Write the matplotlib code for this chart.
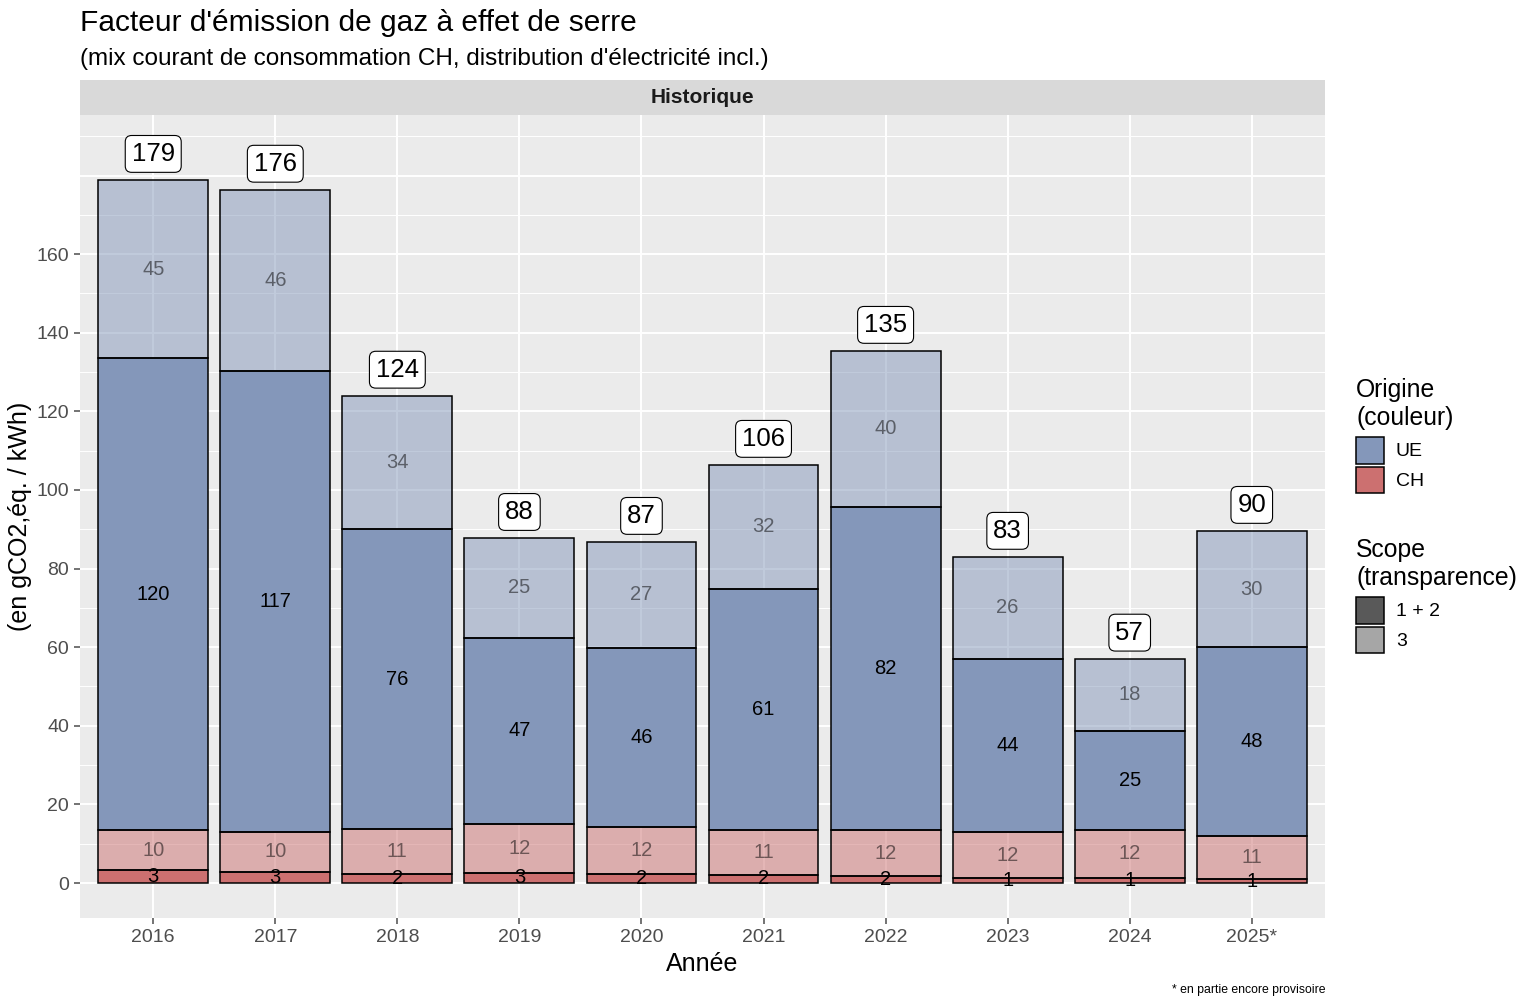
import numpy as np
import matplotlib
matplotlib.use("Agg")
from matplotlib import pyplot as plt
from matplotlib.patches import Patch

plt.rcParams['font.family'] = ['Liberation Sans', 'DejaVu Sans']

years = ['2016', '2017', '2018', '2019', '2020', '2021', '2022', '2023', '2024', '2025*']
ch_s12 = [3.2, 2.8, 2.4, 2.6, 2.3, 2.1, 1.7, 1.3, 1.2, 0.9]
ch_s3 = [10.3, 10.2, 11.3, 12.4, 11.9, 11.4, 11.8, 11.6, 12.4, 11.1]
ue_s12 = [120.0, 117.2, 76.4, 47.4, 45.6, 61.3, 82.2, 44.2, 25.2, 48.0]
ue_s3 = [45.4, 46.2, 33.9, 25.4, 27.0, 31.6, 39.7, 25.9, 18.3, 29.6]

col_ue = '#8497BA'
col_ch = '#CC7070'
bg = '#EBEBEB'

fig = plt.figure(figsize=(15.36, 10.06), dpi=100)
ax = fig.add_axes([80/1536, 1-918/1006, 1245/1536, 803/1006])
ax.set_facecolor(bg)

x = np.arange(len(years))
w = 0.9
segs = [(ch_s12, col_ch, 1.0), (ch_s3, col_ch, 0.5), (ue_s12, col_ue, 1.0), (ue_s3, col_ue, 0.5)]
bottom = np.zeros(len(years))
for vals, c, a in segs:
    vals = np.array(vals)
    ax.bar(x, vals, w, bottom=bottom, color=c, alpha=a, edgecolor='none', zorder=3)
    ax.bar(x, vals, w, bottom=bottom, fill=False, edgecolor='black', linewidth=1.1, zorder=4)
    for xi, b, v in zip(x, bottom, vals):
        ax.text(xi, b + v/2, f"{round(v):d}", ha='center', va='center', fontsize=14.5,
                color='black', alpha=1.0 if a == 1.0 else 0.5, zorder=5)
    bottom = bottom + vals

for xi, t in zip(x, bottom):
    ax.text(xi, t + 6.6, f"{round(t):d}", ha='center', va='center', fontsize=18.5, zorder=6,
            bbox=dict(boxstyle='round,pad=0.25,rounding_size=0.25', fc='white', ec='black', lw=0.8))

ax.set_xlim(-0.6, 9.6)
ax.set_ylim(-8.9, 195.4)
ax.set_xticks(x)
ax.set_xticklabels(years)
ax.set_yticks(np.arange(0, 161, 20))
for yv in np.arange(0, 191, 10):
    ax.axhline(yv, color='white', lw=1.4 if yv % 20 == 0 else 0.7, zorder=1)
for xi in x:
    ax.axvline(xi, color='white', lw=1.4, zorder=1)
for s in ax.spines.values():
    s.set_visible(False)
ax.tick_params(axis='both', colors='#4D4D4D', labelsize=14, length=4, width=1.1, labelcolor='#4D4D4D', pad=4)
ax.set_xlabel('Année', fontsize=18, labelpad=4)
ax.set_ylabel('(en gCO2,éq. / kWh)', fontsize=18, labelpad=3)

# strip
sax = fig.add_axes([80/1536, 1-115/1006, 1245/1536, 35/1006])
sax.set_facecolor('#D9D9D9')
sax.set_xticks([])
sax.set_yticks([])
for s in sax.spines.values():
    s.set_visible(False)
sax.text(0.5, 0.5, 'Historique', ha='center', va='center', fontsize=15, fontweight='bold',
         color='#1A1A1A', transform=sax.transAxes)

fig.text(80/1536, 1-23/1006, "Facteur d'émission de gaz à effet de serre", fontsize=21.5, va='center', ha='left')
fig.text(80/1536, 1-59/1006, "(mix courant de consommation CH, distribution d'électricité incl.)", fontsize=17.5,
         va='center', ha='left')
fig.text(1325/1536, 1-990/1006, "* en partie encore provisoire", fontsize=8.8, ha='right', va='center')

h1 = [Patch(fc=col_ue, ec='black', lw=1.1, label='UE'), Patch(fc=col_ch, ec='black', lw=1.1, label='CH')]
h2 = [Patch(fc='#595959', ec='black', lw=1.1, label='1 + 2'), Patch(fc='#A6A6A6', ec='black', lw=1.1, label='3')]
kw = dict(loc='upper left', frameon=False, fontsize=14, title_fontsize=17.8, handlelength=1.45, handleheight=1.75,
          handletextpad=0.6, labelspacing=0.15, borderaxespad=0, borderpad=0)
leg1 = fig.legend(handles=h1, title='Origine\n(couleur)', bbox_to_anchor=(1356/1536, 1-378/1006), **kw)
leg1._legend_box.align = 'left'
leg1._legend_box.sep = 5
leg2 = fig.legend(handles=h2, title='Scope\n(transparence)', bbox_to_anchor=(1356/1536, 1-538/1006), **kw)
leg2._legend_box.align = 'left'
leg2._legend_box.sep = 5

fig.savefig('out.png', dpi=100)
